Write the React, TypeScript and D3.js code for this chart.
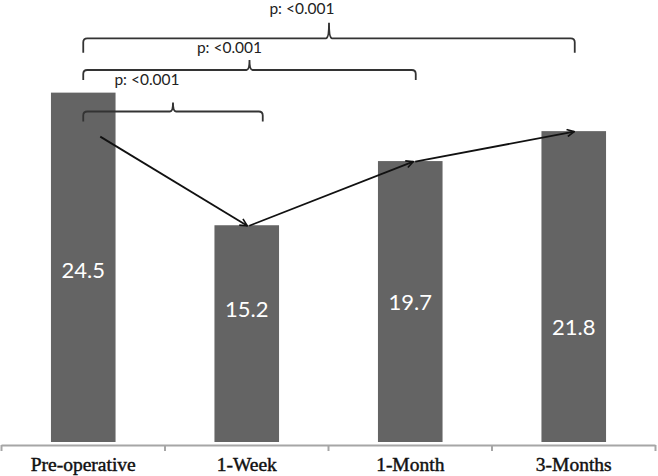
import React from "react";
import * as d3 from "d3";

const categories = ["Pre-operative", "1-Week", "1-Month", "3-Months"];
const values = [24.5, 15.2, 19.7, 21.8];
const valueLabels = ["24.5", "15.2", "19.7", "21.8"];
const comparisonFrom = [0, 0, 0];
const comparisonTo = [1, 2, 3];
const pLabels = ["p: <0.001", "p: <0.001", "p: <0.001"];

// layout (pixels)
const W = 658;
const H = 476;
const labelShift = [3, -25, 1, 41];
const braceY = [111.5, 70, 38.3];
const braceDrop = [10, 10, 14.5];
const braceRise = [9, 10, 15.5];
const braceRightShift = [16, 5.5, 1];
const braceLabelShift = [-26, -20, -27];
const braceLabelRise = [26.5, 17, 24.5];

export default function App() {
  const x = d3.scaleBand<string>().domain(categories).range([1.5, 655.5]).paddingInner(0.605).paddingOuter(0.3025);
  const xStep = d3.scaleBand<string>().domain(categories).range([1.5, 655.5]).padding(0);
  const y = d3.scaleLinear().domain([0, 30]).range([442, 442 - 30 * 14.26]);
  const cx = (i: number) => (x(categories[i]) as number) + x.bandwidth() / 2;

  const bracePath = (x0: number, x1: number, yy: number, drop: number, rise: number) => {
    const r = 4;
    const xm = (x0 + x1) / 2;
    const p = d3.path();
    p.moveTo(x0, yy + drop);
    p.lineTo(x0, yy + r);
    p.quadraticCurveTo(x0, yy, x0 + r, yy);
    p.lineTo(xm - 3, yy);
    p.quadraticCurveTo(xm, yy, xm, yy - rise);
    p.quadraticCurveTo(xm, yy, xm + 3, yy);
    p.lineTo(x1 - r, yy);
    p.quadraticCurveTo(x1, yy, x1, yy + r);
    p.lineTo(x1, yy + drop);
    return p.toString();
  };

  const arrowPts: [number, number][] = [[cx(0) + 17, y(values[0]) + 44]];
  for (let i = 1; i < values.length; i++) arrowPts.push([cx(i) + (i === 2 ? 3 : 0.5), y(values[i]) + 0.5]);

  const ticks = categories.map((c) => xStep(c) as number).concat([655.5]);

  return (
    <svg width={W} height={H} style={{ position: "absolute", left: 0, top: 0, background: "#fff" }}>
      <defs>
        <marker id="ah" viewBox="0 0 10 10" refX="9" refY="5" markerWidth="9" markerHeight="9" orient="auto" markerUnits="userSpaceOnUse">
          <path d="M1,1 L9,5 L1,9" fill="none" stroke="#111" strokeWidth="1.8" />
        </marker>
      </defs>
      {values.map((v, i) => (
        <rect key={i} x={x(categories[i])} y={y(v)} width={x.bandwidth()} height={y(0) - y(v)} fill="#646464" />
      ))}
      {values.map((v, i) => (
        <text key={"l" + i} x={cx(i)} y={(y(v) + y(0)) / 2 + labelShift[i]} dy="0.36em" textAnchor="middle"
          fill="#fff" style={{ font: "22px Lato" }}>{valueLabels[i]}</text>
      ))}
      <line x1={1.5} x2={655.5} y1={445.5} y2={445.5} stroke="#a6a6a6" strokeWidth={2} />
      {ticks.map((t, i) => (
        <line key={"t" + i} x1={t} x2={t} y1={445} y2={451} stroke="#a6a6a6" strokeWidth={2} />
      ))}
      {categories.map((c, i) => (
        <text key={"c" + i} x={cx(i)} y={470.5} textAnchor="middle" fill="#111" stroke="#111" strokeWidth={0.45}
          style={{ font: "19.5px 'Liberation Serif'" }}>{c}</text>
      ))}
      {comparisonFrom.map((f, i) => {
        const x0 = cx(f);
        const x1 = cx(comparisonTo[i]) + braceRightShift[i];
        return (
          <g key={"b" + i}>
            <path d={bracePath(x0, x1, braceY[i], braceDrop[i], braceRise[i])} fill="none" stroke="#333" strokeWidth={1.8} />
            <text x={(x0 + x1) / 2 + braceLabelShift[i]} y={braceY[i] - braceLabelRise[i]} textAnchor="middle" fill="#222"
              style={{ font: "15.5px Lato" }}>{pLabels[i]}</text>
          </g>
        );
      })}
      {arrowPts.slice(1).map((pt, i) => {
        const start = i === 0 ? arrowPts[0] : [arrowPts[i][0] + 2, arrowPts[i][1]];
        return (
          <line key={"a" + i} x1={start[0]} y1={start[1]} x2={pt[0]} y2={pt[1]} stroke="#111" strokeWidth={1.8} markerEnd="url(#ah)" />
        );
      })}
    </svg>
  );
}
